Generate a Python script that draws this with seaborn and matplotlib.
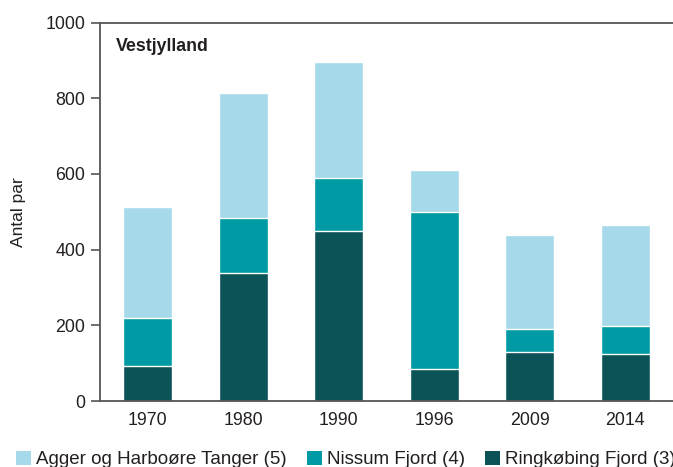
import pandas as pd
import seaborn as sns
import matplotlib.pyplot as plt
from matplotlib.patches import Patch

# Antal ynglepar, Vestjylland
years = ["1970", "1980", "1990", "1996", "2009", "2014"]
ringkobing = [93, 338, 448, 85, 130, 125]
nissum = [127, 145, 141, 414, 60, 73]
agger = [293, 332, 306, 110, 248, 268]

series_names = ["Agger og Harboøre Tanger (5)", "Nissum Fjord (4)", "Ringkøbing Fjord (3)"]
colors = ["#a6d9ea", "#009aa5", "#0b5357"]


def build_frame():
    df = pd.DataFrame({
        "År": years,
        "Ringkøbing": ringkobing,
        "Nissum": nissum,
        "Agger": agger,
    })
    # cumulative tops for stacking
    df["top_r"] = df["Ringkøbing"]
    df["top_n"] = df["top_r"] + df["Nissum"]
    df["top_a"] = df["top_n"] + df["Agger"]
    return df


def plot_stacked(df):
    sns.set_style("white")
    plt.rcParams["font.family"] = ["Liberation Sans", "DejaVu Sans"]
    text_color = "#231f20"
    spine_color = "#555555"

    fig = plt.figure(figsize=(6.73, 4.67), dpi=100)
    ax = fig.add_axes([100 / 673, 1 - 401 / 467, 573 / 673, (401 - 22.5) / 467])

    # draw from the tallest segment down so each layer covers the one behind
    for col, color in zip(["top_a", "top_n", "top_r"], colors):
        sns.barplot(data=df, x="År", y=col, order=years, color=color,
                    width=0.51, edgecolor="white", linewidth=1.0,
                    saturation=1, ax=ax)

    ax.set_xlim(-0.5, len(years) - 0.5)
    ax.set_ylim(0, 1000)
    ax.set_yticks(range(0, 1001, 200))
    ax.set_xlabel("")
    ax.set_ylabel("Antal par", fontsize=12.5, color=text_color, labelpad=14)

    # ticks between the categories, labels centred under the bars
    ax.set_xticks([i - 0.5 for i in range(len(years) + 1)], minor=True)
    ax.tick_params(axis="x", which="major", length=0, labelsize=12.8,
                   colors=text_color, pad=8)
    ax.tick_params(axis="x", which="minor", length=6.5, width=1.2,
                   color=spine_color, direction="out")
    ax.tick_params(axis="y", length=6.5, width=1.2, color=spine_color,
                   labelsize=12.8, labelcolor=text_color, pad=4, left=True)

    for side in ["left", "bottom", "top"]:
        ax.spines[side].set_visible(True)
        ax.spines[side].set_color(spine_color)
        ax.spines[side].set_linewidth(1.3)
    ax.spines["right"].set_visible(False)

    ax.text(0.028, 0.96, "Vestjylland", transform=ax.transAxes, fontsize=12.8,
            fontweight="bold", color=text_color, ha="left", va="top")

    handles = [Patch(facecolor=c, edgecolor="none") for c in colors]
    fig.legend(handles, series_names, loc="center left", ncol=3,
               bbox_to_anchor=(16 / 673, 1 - 459.5 / 467), frameon=False,
               fontsize=13.5, handlelength=0.8, handleheight=0.8,
               handletextpad=0.28, columnspacing=1.05, borderpad=0,
               borderaxespad=0, labelcolor=text_color)

    fig.savefig("out.png", dpi=100)


def main():
    df = build_frame()
    plot_stacked(df)


if __name__ == "__main__":
    main()
